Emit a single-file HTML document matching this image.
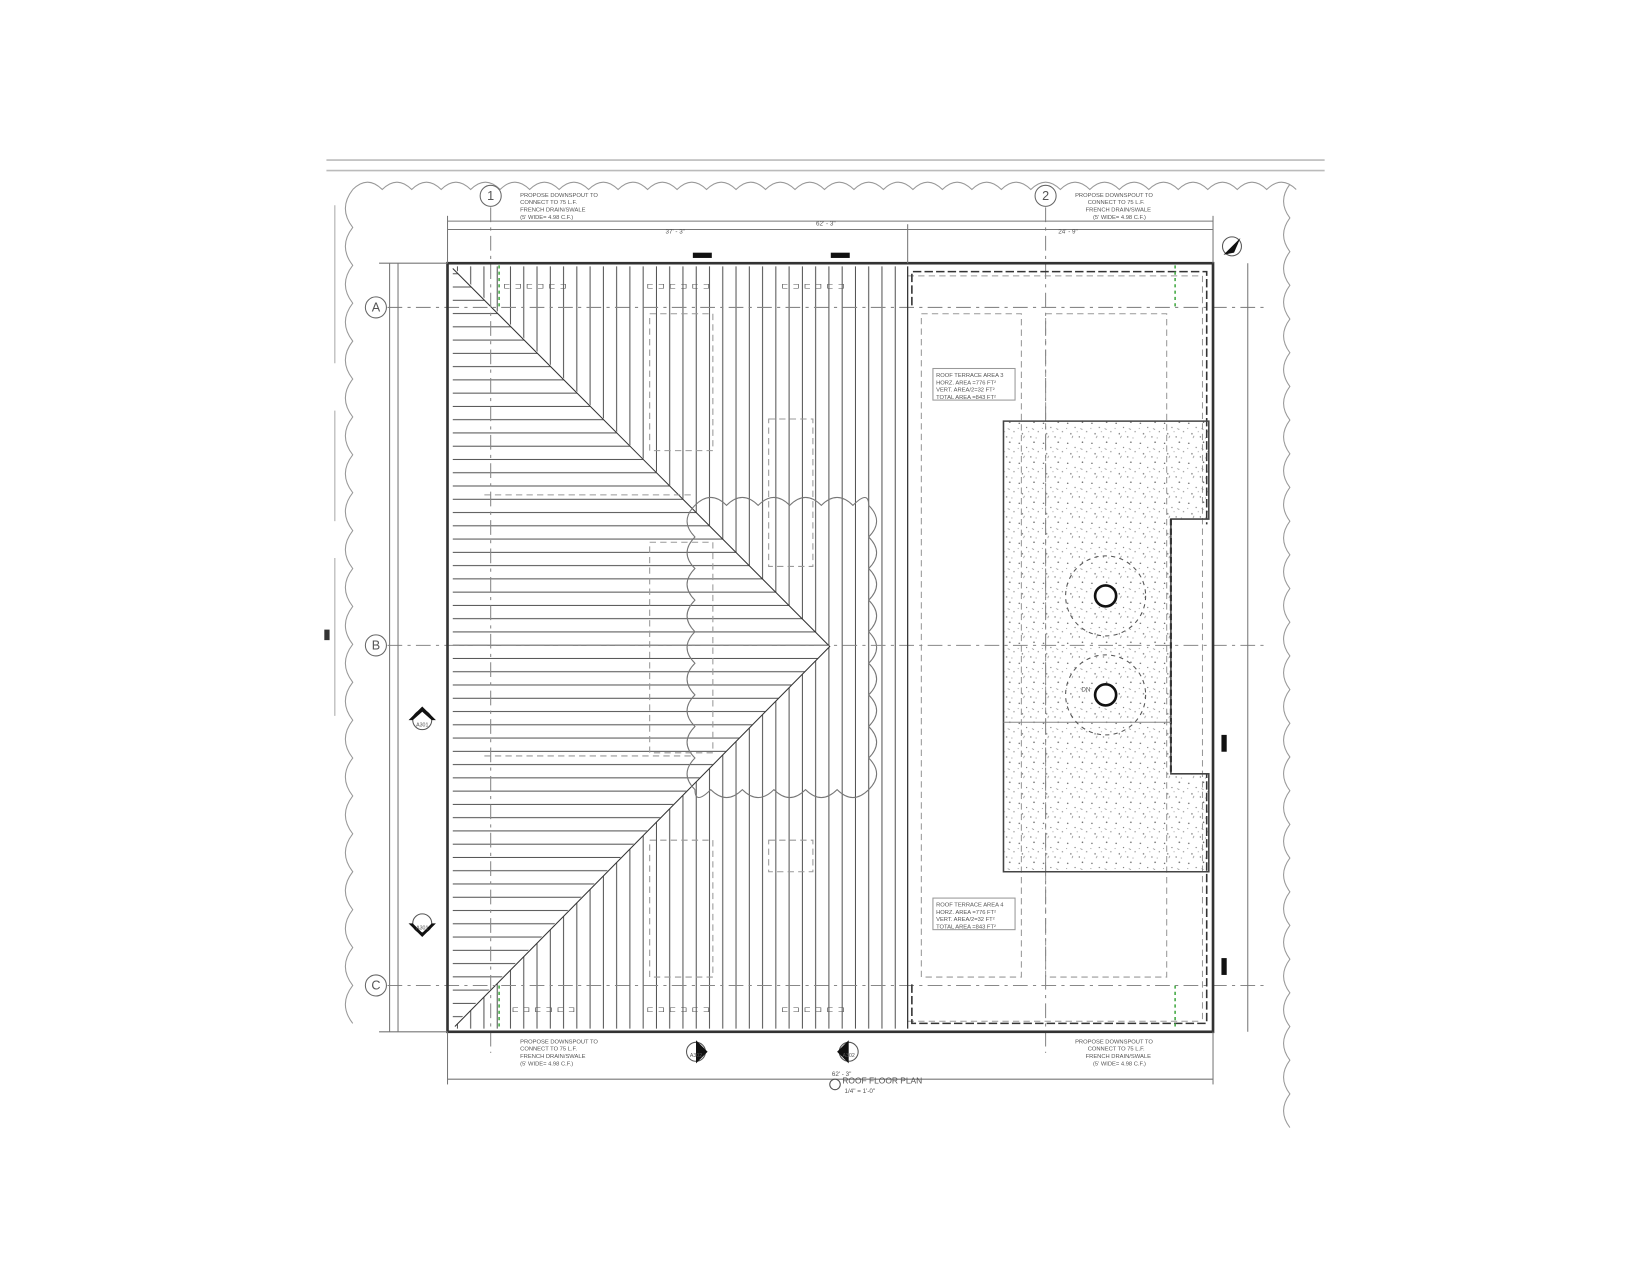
<!DOCTYPE html>
<html><head><meta charset="utf-8"><style>html,body{margin:0;padding:0;background:#fff}svg{display:block}text{font-family:"Liberation Sans",sans-serif;fill:#555}</style></head><body>
<svg width="1650" height="1275" viewBox="0 0 1567 1211" preserveAspectRatio="none" xmlns="http://www.w3.org/2000/svg">
<defs>
<pattern id="vl" x="0" y="0" width="12.6" height="10" patternUnits="userSpaceOnUse"><line x1="6" y1="0" x2="6" y2="10" stroke="#444" stroke-width="0.9"/></pattern>
<pattern id="hl" x="0" y="2" width="10" height="12.6" patternUnits="userSpaceOnUse"><line x1="0" y1="6" x2="10" y2="6" stroke="#444" stroke-width="0.9"/></pattern>
<pattern id="sp" width="23" height="19" patternUnits="userSpaceOnUse">
<circle cx="2" cy="3" r="0.7" fill="#666"/><circle cx="9" cy="7" r="0.6" fill="#777"/><circle cx="16" cy="2" r="0.7" fill="#555"/><circle cx="20" cy="11" r="0.6" fill="#777"/><circle cx="5" cy="13" r="0.7" fill="#666"/><circle cx="13" cy="16" r="0.6" fill="#555"/><circle cx="18" cy="17" r="0.5" fill="#888"/><circle cx="11" cy="11" r="0.5" fill="#888"/><circle cx="1" cy="8" r="0.5" fill="#888"/><line x1="14" y1="8" x2="16" y2="9" stroke="#777" stroke-width="0.6"/><line x1="6" y1="17" x2="7" y2="15" stroke="#777" stroke-width="0.6"/>
</pattern>
</defs>
<!-- top lines -->
<line x1="310" y1="152" x2="1258" y2="152" stroke="#bbb" stroke-width="1.5"/>
<line x1="310" y1="162" x2="1258" y2="162" stroke="#bbb" stroke-width="1.5"/>
<!-- scalloped borders -->
<path d="M335 180 q14 -14 28 0 q14 -14 28 0 q14 -14 28 0 q14 -14 28 0 q14 -14 28 0 q14 -14 28 0 q14 -14 28 0 q14 -14 28 0 q14 -14 28 0 q14 -14 28 0 q14 -14 28 0 q14 -14 28 0 q14 -14 28 0 q14 -14 28 0 q14 -14 28 0 q14 -14 28 0 q14 -14 28 0 q14 -14 28 0 q14 -14 28 0 q14 -14 28 0 q14 -14 28 0 q14 -14 28 0 q14 -14 28 0 q14 -14 28 0 q14 -14 28 0 q14 -14 28 0 q14 -14 28 0 q14 -14 28 0 q14 -14 28 0 q14 -14 28 0 q14 -14 28 0 q14 -14 28 0" fill="none" stroke="#999" stroke-width="1"/>
<path d="M335 180 q-14 18 0 36 q-14 18 0 36 q-14 18 0 36 q-14 18 0 36 q-14 18 0 36 q-14 18 0 36 q-14 18 0 36 q-14 18 0 36 q-14 18 0 36 q-14 18 0 36 q-14 18 0 36 q-14 18 0 36 q-14 18 0 36 q-14 18 0 36 q-14 18 0 36 q-14 18 0 36 q-14 18 0 36 q-14 18 0 36 q-14 18 0 36 q-14 18 0 36 q-14 18 0 36 q-14 18 0 36" fill="none" stroke="#999" stroke-width="1"/>
<path d="M1225 175 q-12 16 0 32 q-12 16 0 32 q-12 16 0 32 q-12 16 0 32 q-12 16 0 32 q-12 16 0 32 q-12 16 0 32 q-12 16 0 32 q-12 16 0 32 q-12 16 0 32 q-12 16 0 32 q-12 16 0 32 q-12 16 0 32 q-12 16 0 32 q-12 16 0 32 q-12 16 0 32 q-12 16 0 32 q-12 16 0 32 q-12 16 0 32 q-12 16 0 32 q-12 16 0 32 q-12 16 0 32 q-12 16 0 32 q-12 16 0 32 q-12 16 0 32 q-12 16 0 32 q-12 16 0 32 q-12 16 0 32" fill="none" stroke="#999" stroke-width="1"/>
<!-- left ticks -->
<g stroke="#aaa"><line x1="318" y1="195" x2="318" y2="345"/><line x1="318" y1="390" x2="318" y2="495"/><line x1="318" y1="530" x2="318" y2="680"/></g>
<!-- roof lines -->
<polygon points="430,253 862,253 862,977 430,977 788,614" fill="url(#vl)"/>
<polygon points="430,255 788,614 430,975" fill="url(#hl)"/>
<polyline points="430,255 788,614 432,975" fill="none" stroke="#333" stroke-width="1"/>
<!-- cloud middle -->
<path d="M660 480 q15 -15 30 0 q15 -15 30 0 q15 -15 30 0 q15 -15 30 0 q15 -15 30 0 q15 -15 15 0 q15 15 0 30 q15 15 0 30 q15 15 0 30 q15 15 0 30 q15 15 0 30 q15 15 0 30 q15 15 0 30 q15 15 0 30 q15 15 0 30 q-15 15 -30 0 q-15 15 -30 0 q-15 15 -30 0 q-15 15 -30 0 q-15 15 -30 0 q-15 15 -15 0 q-15 -15 0 -30 q-15 -15 0 -30 q-15 -15 0 -30 q-15 -15 0 -30 q-15 -15 0 -30 q-15 -15 0 -30 q-15 -15 0 -30 q-15 -15 0 -30 q-15 -15 0 -30z" fill="none" stroke="#777" stroke-width="1"/>
<!-- dashed interior -->
<g fill="none" stroke="#999" stroke-dasharray="6,4" stroke-width="1">
<rect x="617" y="298" width="60" height="130"/><rect x="730" y="398" width="42" height="140"/><rect x="617" y="515" width="60" height="200"/><rect x="617" y="798" width="60" height="130"/><rect x="730" y="798" width="42" height="30"/><rect x="993" y="298" width="115" height="630"/><rect x="875" y="298" width="95" height="630"/>
<line x1="460" y1="470" x2="660" y2="470"/><line x1="460" y1="718" x2="660" y2="718"/>
<line x1="862" y1="262" x2="1142" y2="262"/><line x1="862" y1="970" x2="1142" y2="970"/><line x1="1142" y1="262" x2="1142" y2="970"/>
</g>
<!-- grid lines -->
<g stroke="#888" stroke-width="1" stroke-dasharray="14,5,3,5">
<line x1="368" y1="292" x2="1200" y2="292"/><line x1="368" y1="613" x2="1200" y2="613"/><line x1="368" y1="936" x2="1200" y2="936"/>
<line x1="466" y1="197" x2="466" y2="1000"/><line x1="993" y1="197" x2="993" y2="1000"/>
</g>
<g fill="#fff" stroke="#666"><circle cx="357" cy="292" r="10"/><circle cx="357" cy="613" r="10"/><circle cx="357" cy="936" r="10"/><circle cx="466" cy="186" r="10"/><circle cx="993" cy="186" r="10"/></g>
<g font-size="12" text-anchor="middle"><text x="357" y="296">A</text><text x="357" y="617">B</text><text x="357" y="940">C</text><text x="466" y="190">1</text><text x="993" y="190">2</text></g>
<!-- building outline -->
<g fill="none" stroke="#333">
<rect x="425" y="250" width="727" height="730" stroke-width="2.5"/>
<polyline points="862,253 862,977" stroke-width="1.2"/>
<polyline points="866,290 866,258 1146,258 1146,498" stroke-dasharray="8,3" stroke-width="1.5"/>
<polyline points="866,935 866,972 1146,972 1146,735" stroke-dasharray="8,3" stroke-width="1.5"/>
</g>
<!-- terrace speckle -->
<polygon points="953,400 1148,400 1148,493 1112,493 1112,735 1148,735 1148,828 953,828" fill="url(#sp)" stroke="#444" stroke-width="1.5"/>
<polyline points="1112,493 1112,735" fill="none" stroke="#333" stroke-width="2" stroke-dasharray="6,3"/>
<line x1="953" y1="686" x2="1112" y2="686" stroke="#888"/>
<g fill="none" stroke="#555"><circle cx="1050" cy="566" r="38" stroke-dasharray="4,4"/><circle cx="1050" cy="660" r="38" stroke-dasharray="4,4"/></g>
<circle cx="1050" cy="566" r="10" fill="#fff" stroke="#111" stroke-width="2.5"/>
<circle cx="1050" cy="660" r="10" fill="#fff" stroke="#111" stroke-width="2.5"/>
<text x="1027" y="657" font-size="6">DN</text>
<!-- dimension lines -->
<g stroke="#777" stroke-width="1">
<line x1="425" y1="210" x2="1152" y2="210"/><line x1="425" y1="218" x2="862" y2="218"/><line x1="862" y1="218" x2="1152" y2="218"/>
<line x1="425" y1="205" x2="425" y2="250"/><line x1="862" y1="213" x2="862" y2="250"/><line x1="1152" y1="205" x2="1152" y2="250"/>
<line x1="425" y1="1025" x2="1152" y2="1025"/><line x1="425" y1="980" x2="425" y2="1030"/><line x1="1152" y1="980" x2="1152" y2="1030"/>
<line x1="370" y1="250" x2="370" y2="980"/><line x1="378" y1="250" x2="378" y2="980"/>
<line x1="1185" y1="250" x2="1185" y2="980"/>
<line x1="360" y1="250" x2="425" y2="250"/><line x1="360" y1="980" x2="425" y2="980"/>
</g>
<g font-size="6" fill="#777"><text x="632" y="222">37' - 3"</text><text x="775" y="214">62' - 3"</text><text x="1005" y="222">24' - 9"</text><text x="790" y="1022">62' - 3"</text></g>
<!-- black marks -->
<g fill="#111"><rect x="658" y="240" width="18" height="5"/><rect x="789" y="240" width="18" height="5"/><rect x="1160" y="698" width="5" height="16"/><rect x="1160" y="910" width="5" height="16"/></g>
<!-- green downspouts -->
<g stroke="#4a4" stroke-dasharray="3,3" stroke-width="1.5"><line x1="474" y1="252" x2="474" y2="292"/><line x1="1116" y1="252" x2="1116" y2="292"/><line x1="474" y1="936" x2="474" y2="978"/><line x1="1116" y1="936" x2="1116" y2="978"/></g>
<!-- notes -->
<g font-size="5.5" fill="#666">
<text x="494" y="187">PROPOSE DOWNSPOUT TO</text><text x="494" y="194">CONNECT TO 75 L.F.</text><text x="494" y="201">FRENCH DRAIN/SWALE</text><text x="494" y="208">(5' WIDE= 4.98 C.F.)</text>
<text x="1021" y="187">PROPOSE DOWNSPOUT TO</text><text x="1033" y="194">CONNECT TO 75 L.F.</text><text x="1031" y="201">FRENCH DRAIN/SWALE</text><text x="1038" y="208">(5' WIDE= 4.98 C.F.)</text>
<text x="494" y="991">PROPOSE DOWNSPOUT TO</text><text x="494" y="998">CONNECT TO 75 L.F.</text><text x="494" y="1005">FRENCH DRAIN/SWALE</text><text x="494" y="1012">(5' WIDE= 4.98 C.F.)</text>
<text x="1021" y="991">PROPOSE DOWNSPOUT TO</text><text x="1033" y="998">CONNECT TO 75 L.F.</text><text x="1031" y="1005">FRENCH DRAIN/SWALE</text><text x="1038" y="1012">(5' WIDE= 4.98 C.F.)</text>
</g>
<g fill="#fff" stroke="#999"><rect x="886" y="350" width="78" height="30"/><rect x="886" y="853" width="78" height="30"/></g>
<g font-size="5.5" fill="#555">
<text x="889" y="358">ROOF TERRACE AREA 3</text><text x="889" y="365">HORZ. AREA =776 FT²</text><text x="889" y="372">VERT. AREA/2=32 FT²</text><text x="889" y="379">TOTAL AREA =843 FT²</text>
<text x="889" y="861">ROOF TERRACE AREA 4</text><text x="889" y="868">HORZ. AREA =776 FT²</text><text x="889" y="875">VERT. AREA/2=32 FT²</text><text x="889" y="882">TOTAL AREA =843 FT²</text>
</g>
<!-- section markers -->
<g fill="#fff" stroke="#555"><circle cx="401" cy="684" r="9"/><circle cx="401" cy="877" r="9"/><circle cx="661" cy="999" r="9"/><circle cx="806" cy="999" r="9"/><circle cx="793" cy="1030" r="5"/><circle cx="1170" cy="234" r="9"/></g>
<g fill="#111"><polygon points="388,684 401,671 414,684 410,684 401,676 392,684"/><polygon points="388,877 401,890 414,877 410,877 401,886 392,877"/><polygon points="672,999 661,988 661,1010"/><polygon points="795,999 806,988 806,1010"/><polygon points="1162,242 1178,226 1172,240"/></g>
<g font-size="5" fill="#444" text-anchor="middle"><text x="401" y="690">A301</text><text x="401" y="883">A301</text><text x="661" y="1004">A302</text><text x="806" y="1004">A302</text></g>
<text x="800" y="1029" font-size="8" fill="#333">ROOF FLOOR PLAN</text>
<text x="802" y="1038" font-size="6" fill="#333">1/4" = 1'-0"</text>
<!-- roof drain brackets -->
<g font-size="8" fill="#555">
<text x="478" y="274" letter-spacing="4">⊏⊐⊏⊐⊏⊐</text><text x="614" y="274" letter-spacing="4">⊏⊐⊏⊐⊏⊐</text><text x="742" y="274" letter-spacing="4">⊏⊐⊏⊐⊏⊐</text>
<text x="486" y="961" letter-spacing="4">⊏⊐⊏⊐⊏⊐</text><text x="614" y="961" letter-spacing="4">⊏⊐⊏⊐⊏⊐</text><text x="742" y="961" letter-spacing="4">⊏⊐⊏⊐⊏⊐</text>
</g>
<rect x="308" y="598" width="5" height="10" fill="#333"/>
</svg>
</body></html>
